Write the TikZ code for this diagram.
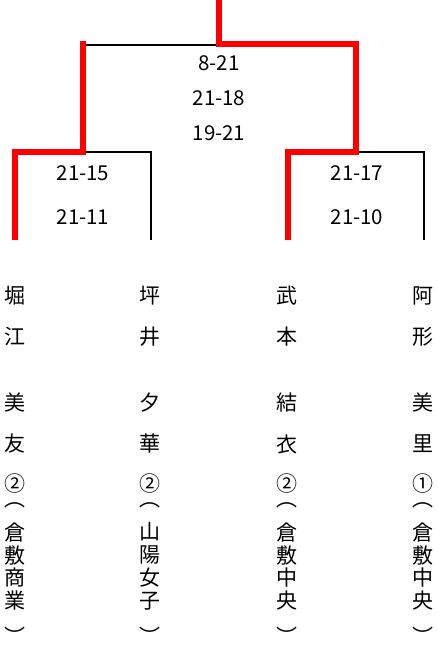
\documentclass[tikz,border=0pt]{standalone}
\usepackage{fontspec}
\setmainfont{Noto Sans CJK JP}
\usepackage{tikz}

\tikzset{
    win/.style={red, line width=6pt, line cap=rect, line join=miter},
    lose/.style={black, line width=2.6pt},
    score/.style={font=\fontsize{20.5}{20.5}\selectfont, inner sep=0pt},
    nm/.style={font=\fontsize{21}{21}\selectfont, inner sep=0pt},
    par/.style={nm, anchor=base, text height=2pt, text depth=0pt}
}

\begin{document}
\begin{tikzpicture}[x=1pt, y=-1pt]
\useasboundingbox (0,0) rectangle (437,646);

\coordinate (top) at (219,3);
\coordinate (f) at (219,44);
\coordinate (fl) at (83,44);
\coordinate (sl) at (83,152);
\coordinate (sr) at (356,152);
\coordinate (e1) at (15,237);
\coordinate (e2) at (151,240);
\coordinate (e3) at (288,237);
\coordinate (e4) at (424,240);

\node[score] (s1) at (219,63.5) {8-21};
\node[score] (s2) at (219,98.5) {21-18};
\node[score] (s3) at (219,133.5) {19-21};
\node[score] (l1) at (83,173) {21-15};
\node[score] (l2) at (83,217) {21-11};
\node[score] (r1) at (357,173) {21-17};
\node[score] (r2) at (357,217) {21-10};

\draw[lose] ([yshift=-1pt]fl) -- ([yshift=-1pt]f);
\draw[lose] (sl) -| (e2);
\draw[lose] (sr) -| (e4);

\draw[win] (top) -- (f) -| (sr) -| (e3);
\draw[win] (fl) -- (sl) -| (e1);

\foreach \y/\a/\b/\c/\d [count=\i] in {
296/堀/坪/武/阿,
337/江/井/本/形,
403/美/夕/結/美,
444/友/華/衣/里,
484/②/②/②/①,
532/倉/山/倉/倉,
555/敷/陽/敷/敷,
578/商/女/中/中,
601/業/子/央/央
}
{
    \node[nm] (a\i) at (15,\y) {\a};
    \node[nm] (b\i) at (150,\y) {\b};
    \node[nm] (c\i) at (287,\y) {\c};
    \node[nm] (d\i) at (423,\y) {\d};
}

% brackets round the school names
\foreach \x/\n in {15/a, 150/b, 287/c, 423/d}
{
    \node[par] (\n o) at (\x,506) {︵};
    \node[par] (\n c) at (\x,644) {︶};
}

\end{tikzpicture}
\end{document}
